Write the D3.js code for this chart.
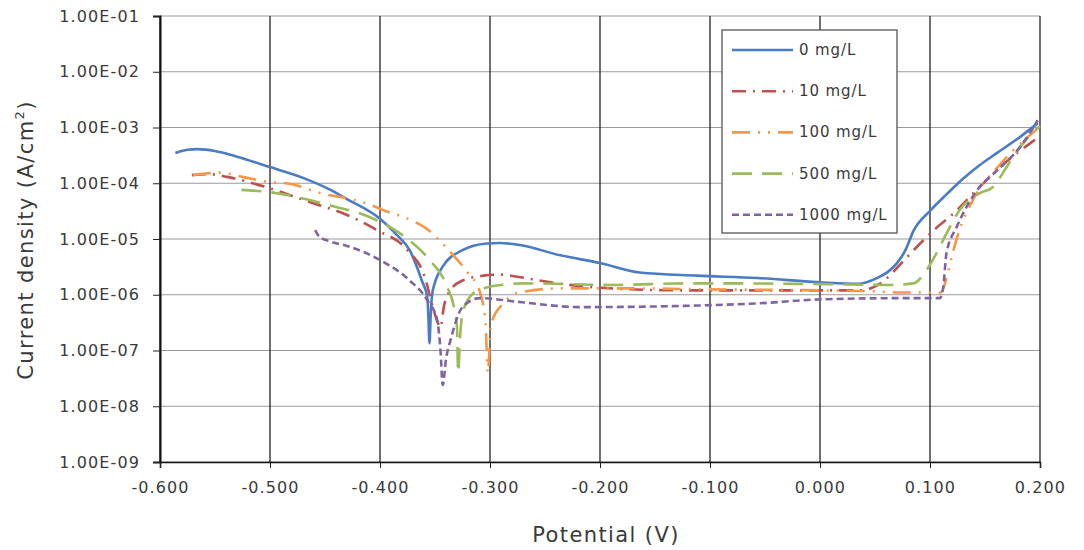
<!DOCTYPE html>
<html>
<head>
<meta charset="utf-8">
<style>
  body { margin: 0; background: #fff; }
  text { font-family: "DejaVu Sans", Verdana, sans-serif; fill: #3a3a3a; }
  .tick-label { font-size: 16px; letter-spacing: 1.1px; }
  .axis-title { font-size: 21px; letter-spacing: 1.4px; }
  .legend-text { font-size: 15px; letter-spacing: 0.9px; }
  .hgrid { stroke: #9a9a9a; stroke-width: 1px; }
  .vgrid { stroke: #222; stroke-width: 1.3px; }
  .curve { fill: none; stroke-width: 2.6px; stroke-linejoin: round; }
</style>
</head>
<body>
<svg id="chart" width="1084" height="550"></svg>
<script src="https://cdn.jsdelivr.net/npm/d3@7"></script>
<script>
// ---- data: [potential (V), current density (A/cm2)] ----
var seriesNames = ['0 mg/L', '10 mg/L', '100 mg/L', '500 mg/L', '1000 mg/L'];
var xTicks = [-0.6, -0.5, -0.4, -0.3, -0.2, -0.1, 0.0, 0.1, 0.2];
var yTicks = [1e-9, 1e-8, 1e-7, 1e-6, 1e-5, 1e-4, 1e-3, 1e-2, 1e-1];

var curve0 = [
  [-0.586, 3.5e-4], [-0.575, 4.0e-4], [-0.566, 4.1e-4], [-0.55, 3.8e-4], [-0.53, 3.0e-4],
  [-0.5, 1.95e-4], [-0.47, 1.25e-4], [-0.445, 7.6e-5], [-0.43, 5.2e-5], [-0.4, 2.3e-5],
  [-0.385, 1.2e-5], [-0.373, 6.3e-6], [-0.362, 1.8e-6], [-0.357, 9e-7], [-0.356, 4e-7],
  [-0.355, 1.35e-7], [-0.354, 4e-7], [-0.352, 1.2e-6], [-0.343, 3.2e-6], [-0.325, 6.3e-6],
  [-0.303, 8.3e-6], [-0.291, 8.5e-6], [-0.273, 7.8e-6], [-0.236, 5.1e-6], [-0.2, 3.7e-6],
  [-0.164, 2.5e-6], [-0.112, 2.2e-6], [-0.057, 2.0e-6], [0.003, 1.66e-6], [0.036, 1.58e-6],
  [0.052, 2.0e-6], [0.062, 2.6e-6], [0.07, 3.7e-6], [0.078, 6.5e-6], [0.085, 1.4e-5],
  [0.1, 3.2e-5], [0.115, 6.3e-5], [0.13, 1.2e-4], [0.145, 2.1e-4], [0.161, 3.5e-4],
  [0.182, 6.8e-4], [0.198, 1.2e-3]
];
var curve10 = [
  [-0.571, 1.4e-4], [-0.555, 1.45e-4], [-0.539, 1.3e-4], [-0.527, 1.15e-4], [-0.5, 8.1e-5],
  [-0.464, 4.6e-5], [-0.43, 2.7e-5], [-0.403, 1.45e-5], [-0.375, 6.3e-6], [-0.359, 2e-6],
  [-0.352, 6e-7], [-0.347, 3e-7], [-0.345, 2.6e-7], [-0.342, 6e-7], [-0.336, 1.2e-6],
  [-0.325, 1.8e-6], [-0.306, 2.2e-6], [-0.29, 2.3e-6], [-0.275, 2.1e-6], [-0.239, 1.6e-6],
  [-0.203, 1.35e-6], [-0.127, 1.2e-6], [-0.05, 1.2e-6], [0.036, 1.2e-6], [0.055, 1.6e-6],
  [0.066, 2.5e-6], [0.079, 4.7e-6], [0.094, 9.5e-6], [0.106, 1.6e-5], [0.118, 2.5e-5],
  [0.145, 8.5e-5], [0.175, 3e-4], [0.191, 5.2e-4], [0.198, 6.5e-4]
];
var curve100 = [
  [-0.57, 1.4e-4], [-0.545, 1.55e-4], [-0.525, 1.3e-4], [-0.5, 1.05e-4], [-0.485, 1.0e-4],
  [-0.448, 6.2e-5], [-0.43, 5.4e-5], [-0.41, 4.2e-5], [-0.397, 3.3e-5], [-0.37, 2.1e-5],
  [-0.357, 1.5e-5], [-0.345, 9e-6], [-0.333, 5e-6], [-0.321, 2.6e-6], [-0.309, 1.1e-6],
  [-0.304, 3e-7], [-0.302, 4e-8], [-0.299, 3e-7], [-0.288, 7e-7], [-0.273, 1.1e-6],
  [-0.236, 1.3e-6], [-0.173, 1.3e-6], [-0.1, 1.25e-6], [0.0, 1.2e-6], [0.05, 1.15e-6],
  [0.073, 1.1e-6], [0.11, 1.1e-6], [0.115, 2e-6], [0.12, 5e-6], [0.127, 1.5e-5],
  [0.135, 3.5e-5], [0.145, 8e-5], [0.16, 1.8e-4], [0.175, 3.8e-4], [0.19, 7e-4],
  [0.2, 1.05e-3]
];
var curve500 = [
  [-0.526, 7.6e-5], [-0.5, 6.9e-5], [-0.464, 5e-5], [-0.439, 3.7e-5], [-0.421, 3e-5],
  [-0.409, 2.45e-5], [-0.39, 1.6e-5], [-0.375, 1e-5], [-0.355, 4.2e-6], [-0.339, 1.4e-6],
  [-0.332, 5e-7], [-0.33, 2.6e-7], [-0.329, 4e-8], [-0.327, 2e-7], [-0.325, 4.7e-7],
  [-0.315, 1.07e-6], [-0.303, 1.35e-6], [-0.29, 1.5e-6], [-0.27, 1.6e-6], [-0.188, 1.5e-6],
  [-0.121, 1.6e-6], [-0.079, 1.6e-6], [0.0, 1.55e-6], [0.064, 1.5e-6], [0.085, 1.6e-6],
  [0.097, 2.8e-6], [0.106, 5.6e-6], [0.115, 1.26e-5], [0.127, 3.3e-5], [0.145, 6.6e-5],
  [0.157, 8.5e-5], [0.17, 2e-4], [0.182, 4.5e-4], [0.191, 7.2e-4], [0.199, 1.05e-3]
];
var curve1000 = [
  [-0.459, 1.45e-5], [-0.455, 1.1e-5], [-0.445, 9e-6], [-0.43, 7.5e-6], [-0.4, 4.2e-6],
  [-0.373, 1.8e-6], [-0.357, 8e-7], [-0.348, 3.5e-7], [-0.345, 1e-7], [-0.343, 2.4e-8],
  [-0.34, 7e-8], [-0.336, 1.5e-7], [-0.325, 6e-7], [-0.309, 8.7e-7], [-0.273, 7.4e-7],
  [-0.218, 6e-7], [-0.127, 6.3e-7], [-0.057, 7e-7], [0.003, 8.3e-7], [0.079, 8.7e-7],
  [0.109, 8.7e-7], [0.112, 1.35e-6], [0.115, 5.6e-6], [0.124, 1.6e-5], [0.133, 3.7e-5],
  [0.145, 8.5e-5], [0.161, 1.7e-4], [0.182, 4.5e-4], [0.198, 1.35e-3]
];

var colors = ['#4a7cc6', '#c0504d', '#f79646', '#9bbb59', '#8064a2'];
var dashes = [null, '14,7,2,7', '18,8,2,8,2,8', '20,10', '7,4'];
var allCurves = [curve0, curve10, curve100, curve500, curve1000];

// ---- layout ----
var svg = d3.select('#chart');
var plotLeft = 160, plotTop = 16, plotRight = 1040, plotBottom = 462;

var x = d3.scaleLinear().domain([-0.6, 0.2]).range([plotLeft, plotRight]);
var y = d3.scaleLog().domain([1e-9, 1e-1]).range([plotBottom, plotTop]);

// horizontal grid (gray)
svg.append('g').selectAll('line').data(yTicks).enter().append('line')
  .attr('class', 'hgrid')
  .attr('x1', plotLeft).attr('x2', plotRight)
  .attr('y1', function(d){ return y(d); }).attr('y2', function(d){ return y(d); });

// vertical grid (dark)
svg.append('g').selectAll('line').data(xTicks).enter().append('line')
  .attr('class', 'vgrid')
  .attr('x1', function(d){ return x(d); }).attr('x2', function(d){ return x(d); })
  .attr('y1', plotTop).attr('y2', plotBottom);

// axes
var yAxis = d3.axisLeft(y).tickValues(yTicks).tickSize(7)
  .tickFormat(function(d){
    var e = Math.round(Math.log10(d));
    return '1.00E-' + (e > -10 ? '0' : '') + Math.abs(e);
  });
var gy = svg.append('g').attr('transform', 'translate(' + plotLeft + ',0)').call(yAxis);
gy.select('.domain').attr('stroke', '#111').attr('stroke-width', 2);
gy.selectAll('.tick line').attr('stroke', '#222');
gy.selectAll('.tick text').attr('class', 'tick-label').attr('x', -20).attr('fill', '#3a3a3a');

var xAxis = d3.axisBottom(x).tickValues(xTicks).tickSize(6)
  .tickFormat(function(d){ return d3.format('.3f')(d).replace('\u2212', '-'); });
var gx = svg.append('g').attr('transform', 'translate(0,' + plotBottom + ')').call(xAxis);
gx.select('.domain').attr('stroke', '#111').attr('stroke-width', 1.6);
gx.selectAll('.tick line').attr('stroke', '#222');
gx.selectAll('.tick text').attr('class', 'tick-label').attr('y', 20).attr('fill', '#3a3a3a');

// curves
var line = d3.line()
  .x(function(d){ return x(d[0]); })
  .y(function(d){ return y(d[1]); })
  .curve(d3.curveMonotoneX);

svg.append('g').selectAll('path').data(allCurves).enter().append('path')
  .attr('class', 'curve')
  .attr('d', line)
  .attr('stroke', function(d, i){ return colors[i]; })
  .attr('stroke-dasharray', function(d, i){ return dashes[i]; });

// legend
var legend = svg.append('g');
legend.append('rect')
  .attr('x', 722).attr('y', 30).attr('width', 175).attr('height', 203)
  .attr('fill', '#fff').attr('stroke', '#555').attr('stroke-width', 1.3);
var items = legend.selectAll('g.item').data(seriesNames).enter().append('g')
  .attr('class', 'item')
  .attr('transform', function(d, i){ return 'translate(0,' + (50 + i * 41.2) + ')'; });
items.append('line')
  .attr('x1', 732).attr('x2', 793).attr('y1', 0).attr('y2', 0)
  .attr('stroke', function(d, i){ return colors[i]; })
  .attr('stroke-width', 2.6)
  .attr('stroke-dasharray', function(d, i){ return dashes[i]; });
items.append('text')
  .attr('class', 'legend-text')
  .attr('x', 799).attr('y', 5)
  .text(function(d){ return d; });

// axis titles
svg.append('text').attr('class', 'axis-title')
  .attr('text-anchor', 'middle')
  .attr('x', 606).attr('y', 542)
  .text('Potential (V)');

var yt = svg.append('text').attr('class', 'axis-title')
  .attr('text-anchor', 'middle')
  .attr('transform', 'translate(33,240) rotate(-90)');
yt.append('tspan').text('Current density (A/cm');
yt.append('tspan').attr('font-size', '13px').attr('dy', -9).text('2');
yt.append('tspan').attr('dy', 9).text(')');
</script>
</body>
</html>
